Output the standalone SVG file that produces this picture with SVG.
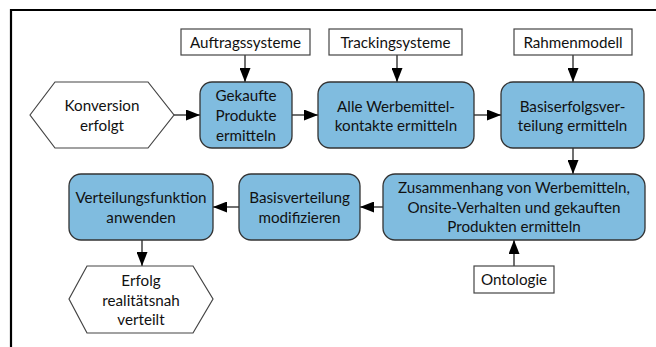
<svg xmlns="http://www.w3.org/2000/svg" width="656" height="347" viewBox="0 0 656 347">
<defs>
<marker id="ah" markerWidth="14" markerHeight="11" refX="14" refY="5.5" orient="auto" markerUnits="userSpaceOnUse">
<path d="M0,0 L14,5.5 L0,11 Z" fill="#000"/>
</marker>
<style>
.p{fill:#80bcdf;stroke:#333;stroke-width:1.3}
.d{fill:#fff;stroke:#444;stroke-width:1.2}
.h{fill:#fff;stroke:#444;stroke-width:1.2}
text{font-family:Lato,"Open Sans",sans-serif;font-size:15.2px;fill:#111;text-anchor:middle}
.c{fill:none;stroke:#404040;stroke-width:1.5;marker-end:url(#ah)}
</style>
</defs>
<rect width="656" height="347" fill="#fff"/>
<path d="M11,347 L11,10 L656,10" fill="none" stroke="#000" stroke-width="2.2"/>
<g id="connectors">
<line class="c" x1="245" y1="55" x2="245" y2="82"/>
<line class="c" x1="397" y1="55" x2="397" y2="82"/>
<line class="c" x1="573" y1="55" x2="573" y2="82"/>
<line class="c" x1="174" y1="115" x2="200" y2="115"/>
<line class="c" x1="292" y1="115" x2="318" y2="115"/>
<line class="c" x1="474" y1="115" x2="501" y2="115"/>
<line class="c" x1="573" y1="148" x2="573" y2="174"/>
<line class="c" x1="383" y1="207" x2="360" y2="207"/>
<line class="c" x1="239" y1="207" x2="213" y2="207"/>
<line class="c" x1="142" y1="240" x2="142" y2="266"/>
<line class="c" x1="514" y1="266" x2="514" y2="240"/>
</g>
<g id="auftragssysteme">
<rect class="d" x="181" y="29" width="129" height="26"/>
<text x="245.5" y="47.5">Auftragssysteme</text>
</g>
<g id="trackingsysteme">
<rect class="d" x="329" y="29" width="133" height="26"/>
<text x="395.5" y="47.5">Trackingsysteme</text>
</g>
<g id="rahmenmodell">
<rect class="d" x="514" y="29" width="118" height="26"/>
<text x="573" y="47.5">Rahmenmodell</text>
</g>
<g id="konversion">
<polygon class="h" points="30,115 55,82 148,82 174,115 148,148 55,148"/>
<text x="102" y="110.5">Konversion</text>
<text x="102" y="130.5">erfolgt</text>
</g>
<g id="gekaufte">
<rect class="p" x="200" y="82" width="92" height="66" rx="12"/>
<text x="246" y="100.5">Gekaufte</text>
<text x="246" y="120.5">Produkte</text>
<text x="246" y="140.5">ermitteln</text>
</g>
<g id="werbemittelkontakte">
<rect class="p" x="318" y="82" width="156" height="66" rx="12"/>
<text x="396" y="111.5">Alle Werbemittel-</text>
<text x="396" y="130.5">kontakte ermitteln</text>
</g>
<g id="basiserfolg">
<rect class="p" x="501" y="82" width="143" height="66" rx="12"/>
<text x="572.5" y="111.5">Basiserfolgsver-</text>
<text x="572.5" y="130.5">teilung ermitteln</text>
</g>
<g id="zusammenhang">
<rect class="p" x="383" y="174" width="262" height="66" rx="12"/>
<text x="514" y="192.5">Zusammenhang von Werbemitteln,</text>
<text x="514" y="212.5">Onsite-Verhalten und gekauften</text>
<text x="514" y="231.5">Produkten ermitteln</text>
</g>
<g id="basisverteilung">
<rect class="p" x="239" y="174" width="121" height="66" rx="12"/>
<text x="299.5" y="202.5">Basisverteilung</text>
<text x="299.5" y="222.5">modifizieren</text>
</g>
<g id="verteilungsfunktion">
<rect class="p" x="69" y="174" width="144" height="66" rx="12"/>
<text x="141" y="202.5">Verteilungsfunktion</text>
<text x="141" y="222.5">anwenden</text>
</g>
<g id="ontologie">
<rect class="d" x="474" y="266" width="80" height="27"/>
<text x="514" y="285">Ontologie</text>
</g>
<g id="erfolg">
<polygon class="h" points="69,299 87,266 193,266 213,299 193,333 87,333"/>
<text x="141" y="285.5">Erfolg</text>
<text x="141" y="305.5">realitätsnah</text>
<text x="141" y="324.5">verteilt</text>
</g>
</svg>
